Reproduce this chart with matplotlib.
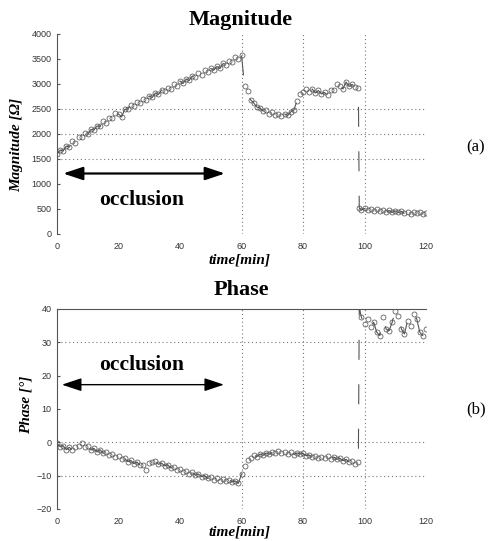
import numpy as np
import matplotlib
matplotlib.use("Agg")
import matplotlib.pyplot as plt

# time axis [min]
t_a = np.arange(0, 99)                      # 0 .. 98
t_b = np.concatenate([[98.3], np.arange(99, 121)])

mag_a = [1590, 1680, 1660, 1760, 1740, 1850, 1820, 1930, 1940, 2020,
         1990, 2090, 2080, 2160, 2150, 2250, 2220, 2320, 2310, 2410,
         2400, 2340, 2490, 2500, 2580, 2560, 2640, 2620, 2690, 2680,
         2760, 2730, 2820, 2790, 2880, 2850, 2920, 2900, 2990, 2960,
         3060, 3010, 3100, 3070, 3160, 3140, 3210, 3170, 3270, 3230,
         3310, 3280, 3350, 3310, 3410, 3380, 3460, 3440, 3530, 3500,
         3580, 2950, 2850, 2680, 2620, 2540, 2520, 2460, 2470, 2400,
         2430, 2370, 2390, 2350, 2400, 2370, 2440, 2480, 2650, 2800,
         2830, 2890, 2840, 2900, 2820, 2870, 2800, 2830, 2770, 2880,
         2870, 2990, 2960, 2900, 3040, 2950, 2990, 2940, 2920]
mag_b = [520, 480, 510, 470, 500, 460, 490, 450, 480, 440, 470, 430,
         460, 430, 450, 410, 440, 400, 430, 410, 440, 400, 420]

ph_a = [-0.3, -1.3, -1.0, -2.2, -1.5, -2.3, -1.4, -1.1, -0.2, -1.5,
        -1.2, -2.3, -1.8, -2.9, -2.2, -3.3, -3.0, -3.9, -3.6, -4.4,
        -4.1, -5.1, -4.8, -5.8, -5.4, -6.4, -5.9, -6.9, -6.8, -8.2,
        -6.2, -5.8, -5.6, -6.6, -6.2, -7.1, -6.7, -7.7, -7.4, -8.3,
        -7.9, -8.8, -8.6, -9.4, -9.0, -9.9, -9.5, -10.3, -10.0, -10.8,
        -10.5, -11.2, -10.8, -11.5, -11.1, -11.7, -11.3, -11.9, -11.6, -12.3,
        -9.5, -7.0, -5.2, -4.8, -3.9, -4.3, -3.5, -3.9, -3.2, -3.6,
        -3.0, -3.3, -2.6, -3.2, -2.9, -3.4, -3.0, -3.7, -3.2, -3.5,
        -3.3, -4.0, -3.8, -4.5, -4.1, -4.7, -4.3, -4.8, -4.2, -4.9,
        -4.4, -5.1, -4.8, -5.5, -5.1, -5.9, -5.5, -6.4, -6.0]
ph_b = [40.5, 37.5, 35.5, 37.0, 34.5, 36.0, 33.0, 32.0, 37.5, 34.0,
        33.5, 36.0, 39.5, 38.0, 34.0, 32.5, 36.5, 35.0, 38.5, 37.0,
        33.0, 32.0, 34.0]

xticks = [0, 20, 40, 60, 80, 100, 120]
mag_ticks = [0, 500, 1000, 1500, 2000, 2500, 3000, 3500, 4000]
ph_ticks = [-20, -10, 0, 10, 20, 30, 40]

serif = "Liberation Serif"
sans = "Liberation Sans"
W, H = 488, 541

fig = plt.figure(figsize=(W / 100, H / 100), dpi=100)
ax1 = fig.add_axes([57 / W, 1 - 234 / H, 369 / W, 200 / H])
ax2 = fig.add_axes([57 / W, 1 - 509 / H, 369 / W, 200 / H])

line_kw = dict(linestyle=(0, (18, 22)), lw=0.8, color="#555555",
               marker="o", ms=3.6, mfc="none", mec="#555555", mew=0.55)
grid_kw = dict(color="#777777", lw=0.8, linestyle=(0, (1, 2.5)), zorder=0)

for ax, t, y, yt, ylim, hgrid in [
        (ax1, np.concatenate([t_a, t_b]), mag_a + mag_b, mag_ticks, (0, 4000), [1500, 2000, 2500]),
        (ax2, np.concatenate([t_a, t_b]), ph_a + ph_b, ph_ticks, (-20, 40), [-10, 0, 30])]:
    ax.plot(t, y, **line_kw)
    ax.set_xlim(0, 120)
    ax.set_ylim(*ylim)
    ax.set_xticks(xticks)
    ax.set_yticks(yt)
    for gx in [60, 80, 100]:
        ax.axvline(gx, **grid_kw)
    for gy in hgrid:
        ax.axhline(gy, **grid_kw)
    for s in ["right", "bottom"]:
        ax.spines[s].set_visible(False)
    ax.spines["left"].set_color("#555555")
    ax.spines["top"].set_color("#555555")
    ax.tick_params(axis="y", direction="in", length=2, color="#555555",
                   labelsize=6.5, labelcolor="#333333", pad=4)
    ax.tick_params(axis="x", length=0, labelsize=6.5, labelcolor="#333333", pad=6)
    for lab in ax.get_xticklabels() + ax.get_yticklabels():
        lab.set_fontfamily(sans)
ax1.spines["top"].set_visible(False)

# occlusion arrows
ax1.annotate("", xy=(54.6, 1210), xytext=(2, 1210),
             arrowprops=dict(arrowstyle="<|-|>,head_length=0.6,head_width=0.2",
                             mutation_scale=20, lw=1.6, color="k", shrinkA=0, shrinkB=0))
ax1.text(27.4, 680, "occlusion", ha="center", va="center", fontsize=15.5,
         fontweight="bold", family=serif)
ax2.annotate("", xy=(54.3, 17.3), xytext=(1.6, 17.3),
             arrowprops=dict(arrowstyle="<|-|>,head_length=0.6,head_width=0.2",
                             mutation_scale=20, lw=1.0, color="k", shrinkA=0, shrinkB=0))
ax2.text(27.4, 23.2, "occlusion", ha="center", va="center", fontsize=15.5,
         fontweight="bold", family=serif)

# titles and labels
fig.text(241 / W, 1 - 25 / H, "Magnitude", ha="center", va="baseline",
         fontsize=16, fontweight="bold", family=serif)
fig.text(241 / W, 1 - 295 / H, "Phase", ha="center", va="baseline",
         fontsize=16, fontweight="bold", family=serif)
fig.text(240 / W, 1 - 264 / H, "time[min]", ha="center", va="baseline",
         fontsize=11, fontweight="bold", style="italic", family=serif)
fig.text(240 / W, 1 - 535 / H, "time[min]", ha="center", va="baseline",
         fontsize=11, fontweight="bold", style="italic", family=serif)
fig.text(17 / W, 1 - 145 / H, "Magnitude [Ω]", ha="center", va="center", rotation=90,
         fontsize=11, fontweight="bold", style="italic", family=serif)
fig.text(26 / W, 1 - 405 / H, "Phase [°]", ha="center", va="center", rotation=90,
         fontsize=11, fontweight="bold", style="italic", family=serif)
fig.text(476 / W, 1 - 147 / H, "(a)", ha="center", va="center", fontsize=12, family=serif)
fig.text(476 / W, 1 - 409 / H, "(b)", ha="center", va="center", fontsize=12, family=serif)

fig.savefig("out.png", dpi=100)
